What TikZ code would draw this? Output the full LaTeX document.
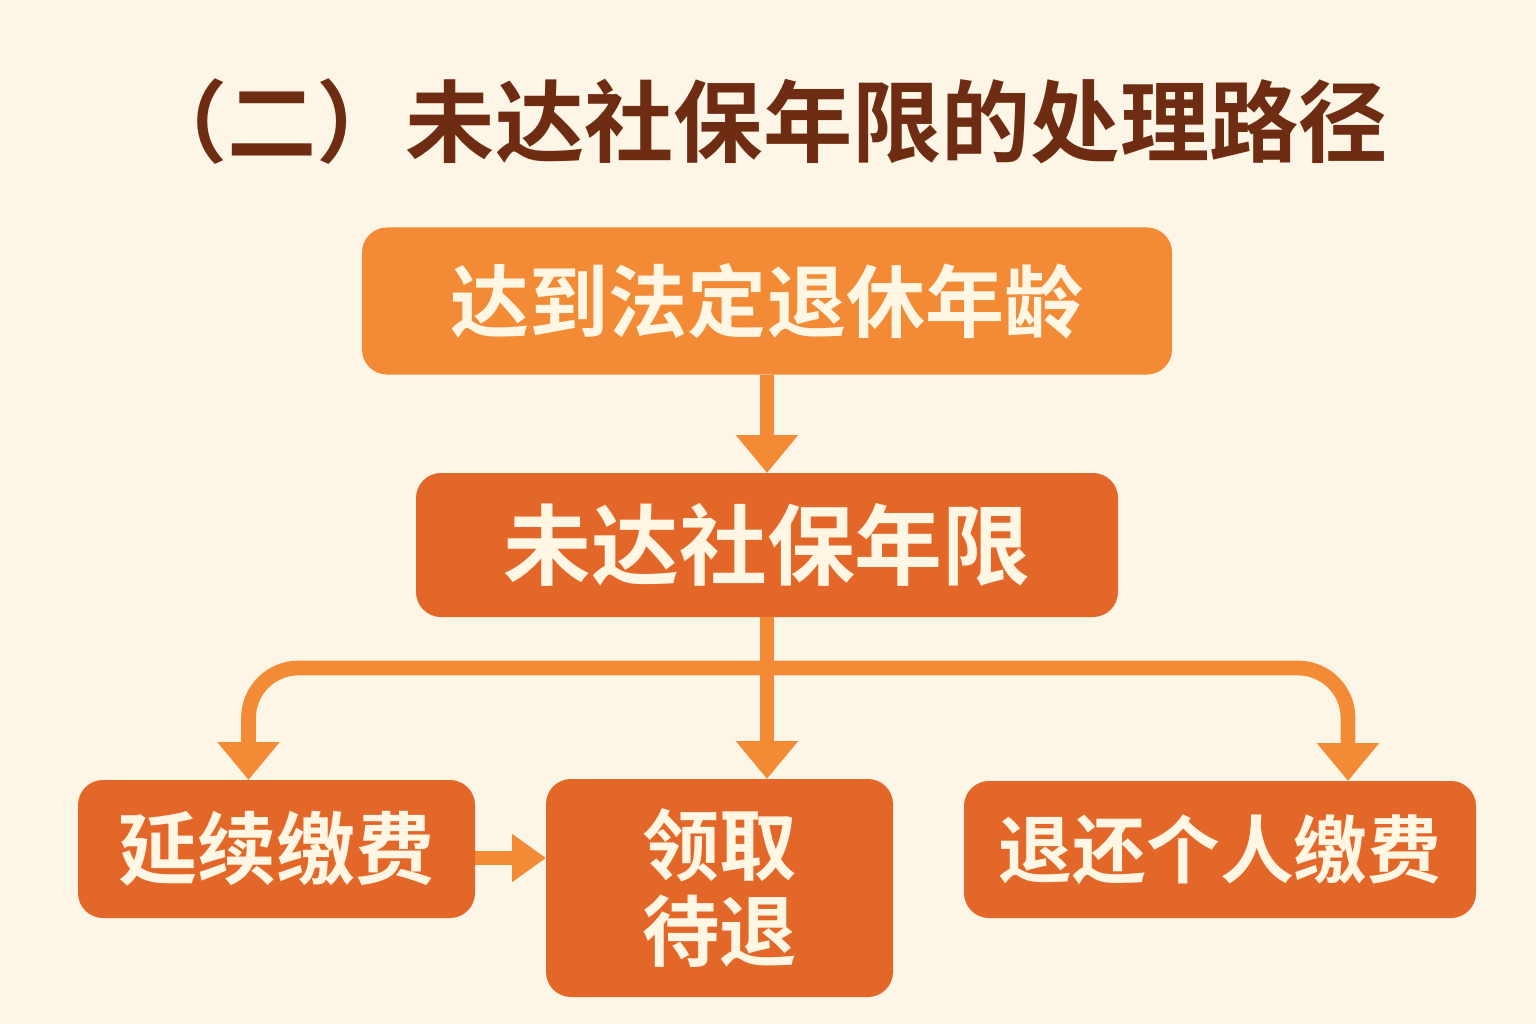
\documentclass[tikz,border=0pt]{standalone}
\usepackage{fontspec}
\usepackage{xcolor}
\usepackage{tikz}
\usetikzlibrary{arrows.meta}
\newfontfamily\cjk{Noto Sans CJK SC}[BoldFont={Noto Sans CJK SC Bold}]
\definecolor{fondo}{HTML}{FDF6E6}
\definecolor{claro}{HTML}{F28A36}
\definecolor{oscuro}{HTML}{E4672A}
\definecolor{titulo}{HTML}{6E2C13}
\definecolor{letra}{HTML}{FFF6E3}

\begin{document}
\begin{tikzpicture}[caja/.style={rounded corners=0.25cm,fill=oscuro,text=letra,font=\cjk\bfseries,align=center,inner sep=0pt,outer sep=0pt},
flecha/.style={claro,line width=4.2pt,-{Triangle[width=6mm,length=3.8mm]}}]
\fill[fondo](0,0)rectangle(15.36,10.24);
\useasboundingbox(0,0)rectangle(15.36,10.24);

\node[text=titulo,font=\cjk\bfseries\fontsize{25.4}{30}\selectfont](T)at(7.63,9.02){（二）未达社保年限的处理路径};

\node[caja,fill=claro,minimum width=8.10cm,minimum height=1.47cm,font=\cjk\bfseries\fontsize{22.5}{26}\selectfont](edad)at(7.67,7.23){达到法定退休年龄};
\node[caja,minimum width=7.02cm,minimum height=1.44cm,font=\cjk\bfseries\fontsize{25}{30}\selectfont](falta)at(7.67,4.79){未达社保年限};
\node[caja,minimum width=3.97cm,minimum height=1.38cm,font=\cjk\bfseries\fontsize{22.5}{26}\selectfont](sigue)at(2.765,1.75){延续缴费};
\node[caja,minimum width=3.47cm,minimum height=2.18cm,font=\cjk\bfseries\fontsize{22}{24.5}\selectfont](cobra)at(7.195,1.36){领取\\待退};
\node[caja,minimum width=5.12cm,minimum height=1.37cm,font=\cjk\bfseries\fontsize{21}{26}\selectfont](devuelve)at(12.20,1.745){退还个人缴费};

\coordinate(rama)at(7.67,3.56);
\draw[flecha](edad)--(falta);
\draw[flecha](falta.south)--(falta.south|-cobra.north);
\draw[flecha,rounded corners=5mm](rama)-|([xshift=-2.8mm]sigue.north);
\draw[flecha,rounded corners=5mm](rama)-|([xshift=12.8mm]devuelve.north);
\draw[flecha,-{Triangle[width=4.6mm,length=3.4mm]}]([yshift=-0.9mm]sigue.east)--([yshift=-0.9mm]sigue.east-|cobra.west);

\end{tikzpicture}
\end{document}
